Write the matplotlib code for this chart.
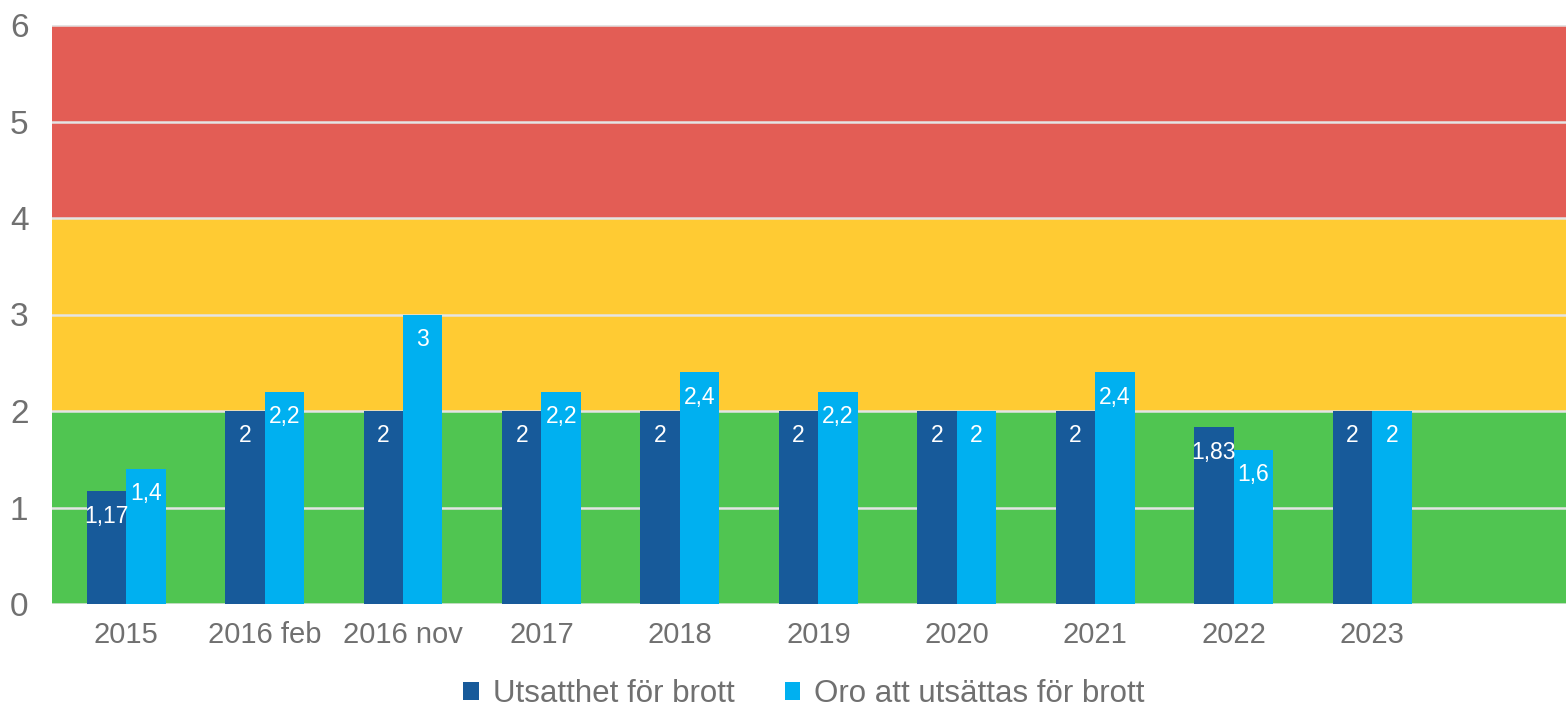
import matplotlib.pyplot as plt
import numpy as np

plt.rcParams['font.family'] = ['Liberation Sans', 'DejaVu Sans']

kategorier = ["2015", "2016 feb", "2016 nov", "2017", "2018", "2019",
              "2020", "2021", "2022", "2023"]
utsatthet = [1.17, 2, 2, 2, 2, 2, 2, 2, 1.83, 2]
oro = [1.4, 2.2, 3, 2.2, 2.4, 2.2, 2, 2.4, 1.6, 2]
serie_namn = ["Utsatthet för brott", "Oro att utsättas för brott"]

# zoner i bakgrunden: (från, till, färg)
zoner = [(0, 2, "#50C551"), (2, 4, "#FFCB33"), (4, 6, "#E35D55")]

morkbla = "#175A9A"
ljusbla = "#00B0F0"
gra = "#707070"

fig = plt.figure(figsize=(15.66, 7.11), dpi=100)
ax = fig.add_axes([52 / 1566, 107 / 711, 1 - 52 / 1566, (604 - 25) / 711])

for lo, hi, c in zoner:
    ax.axhspan(lo, hi, color=c, zorder=0, lw=0)
for y in range(0, 7):
    ax.axhline(y, color="#E4E4E4", lw=1.8, zorder=1)

x = np.arange(len(kategorier))
w = 0.285
b1 = ax.bar(x - w / 2, utsatthet, w, color=morkbla, zorder=2, label=serie_namn[0])
b2 = ax.bar(x + w / 2, oro, w, color=ljusbla, zorder=2, label=serie_namn[1])

for bars, vals in [(b1, utsatthet), (b2, oro)]:
    for r, v in zip(bars, vals):
        txt = f"{v:g}".replace(".", ",")
        ax.annotate(txt, (r.get_x() + r.get_width() / 2, v),
                    xytext=(0, -25), textcoords="offset pixels",
                    ha="center", va="center", color="white", fontsize=16.5, zorder=3)

ax.set_xlim(-0.535, 10.40)
ax.set_ylim(0, 6)
ax.set_xticks(x)
ax.set_xticklabels(kategorier)
ax.set_yticks(range(0, 7))
ax.tick_params(axis="both", length=0, colors=gra)
ax.tick_params(axis="y", pad=17, labelsize=24)
ax.tick_params(axis="x", pad=12, labelsize=21)
for s in ax.spines.values():
    s.set_visible(False)

leg = fig.legend(handles=[b1, b2], loc="center", bbox_to_anchor=(804 / 1566, 1 - 694 / 711),
                 ncol=2, frameon=False, fontsize=22.5, handlelength=0.5, handleheight=0.5,
                 handletextpad=0.45, columnspacing=1.6)
for t in leg.get_texts():
    t.set_color(gra)

fig.savefig("out.png", dpi=100)
